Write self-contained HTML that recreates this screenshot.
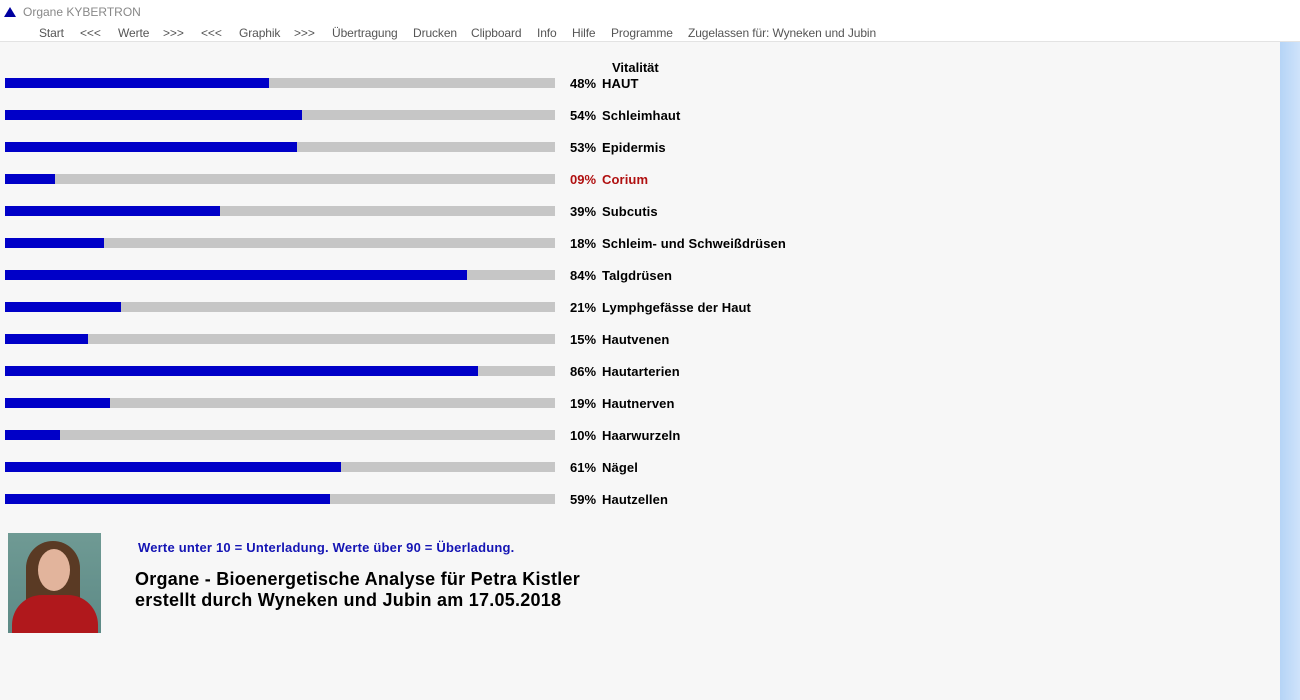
<!DOCTYPE html>
<html><head><meta charset="utf-8"><style>
body{margin:0;width:1300px;height:700px;background:#f7f7f7;font-family:"Liberation Sans",sans-serif;position:relative;overflow:hidden}
.hdr{position:absolute;left:0;top:0;width:1300px;height:41px;background:#fff;border-bottom:1px solid #e3e3e3}
.t{position:absolute;left:23px;top:5px;font-size:12px;color:#888}
.tri{position:absolute;left:4px;top:7px;width:0;height:0;border-left:6px solid transparent;border-right:6px solid transparent;border-bottom:10px solid #0000a0}
.m{position:absolute;top:26px;font-size:12px;color:#555;white-space:nowrap;letter-spacing:-0.1px}
.strip{position:absolute;left:1280px;top:42px;width:20px;height:658px;background:linear-gradient(90deg,#b5d4f6,#cfe3fb)}
.bar{position:absolute;left:5px;width:550px;height:10px;background:#c6c6c6}
.bar i{position:absolute;left:0;top:0;height:10px;background:#0000c8}
.p{position:absolute;left:570px;font-size:13px;font-weight:bold;color:#000}
.l{position:absolute;left:602px;font-size:13px;font-weight:bold;color:#000;white-space:nowrap;letter-spacing:0.1px}
.red{color:#b01010}
</style></head><body>
<div class="hdr"><div class="tri"></div><div class="t">Organe KYBERTRON</div>
<span class="m" style="left:39px">Start</span><span class="m" style="left:80px">&lt;&lt;&lt;</span><span class="m" style="left:118px">Werte</span><span class="m" style="left:163px">&gt;&gt;&gt;</span><span class="m" style="left:201px">&lt;&lt;&lt;</span><span class="m" style="left:239px">Graphik</span><span class="m" style="left:294px">&gt;&gt;&gt;</span><span class="m" style="left:332px">Übertragung</span><span class="m" style="left:413px">Drucken</span><span class="m" style="left:471px">Clipboard</span><span class="m" style="left:537px">Info</span><span class="m" style="left:572px">Hilfe</span><span class="m" style="left:611px">Programme</span><span class="m" style="left:688px">Zugelassen für: Wyneken und Jubin</span>
</div>
<div class="strip"></div>
<div style="position:absolute;left:612px;top:60px;font-size:13px;font-weight:bold">Vitalität</div>
<div id="rows"></div>
<div style="position:absolute;left:8px;top:533px;width:93px;height:100px;background:linear-gradient(#6f9a94,#5d8a86);overflow:hidden">
<div style="position:absolute;left:18px;top:8px;width:54px;height:70px;border-radius:27px 27px 10px 10px;background:#5a3a24"></div>
<div style="position:absolute;left:30px;top:16px;width:32px;height:42px;border-radius:50%;background:#e2b49c"></div>
<div style="position:absolute;left:4px;top:62px;width:86px;height:50px;border-radius:30px 30px 0 0;background:#b0181c"></div>
</div>
<div style="position:absolute;left:138px;top:540px;font-size:13px;font-weight:bold;color:#1414b4;letter-spacing:0.2px">Werte unter 10 = Unterladung. Werte über 90 = Überladung.</div>
<div style="position:absolute;left:135px;top:569px;font-size:18px;font-weight:bold;line-height:21px;color:#000;letter-spacing:0.25px">Organe - Bioenergetische Analyse für Petra Kistler<br>erstellt durch Wyneken und Jubin am 17.05.2018</div>
<script>
var d=[[48,"HAUT"],[54,"Schleimhaut"],[53,"Epidermis"],[9,"Corium"],[39,"Subcutis"],[18,"Schleim- und Schweißdrüsen"],[84,"Talgdrüsen"],[21,"Lymphgefässe der Haut"],[15,"Hautvenen"],[86,"Hautarterien"],[19,"Hautnerven"],[10,"Haarwurzeln"],[61,"Nägel"],[59,"Hautzellen"]];
var h="";d.forEach(function(r,i){var y=78+32*i;var c=r[0]<10?" red":"";var pv=(r[0]<10?"0":"")+r[0];
h+='<div class="bar" style="top:'+y+'px"><i style="width:'+(r[0]*5.5)+'px"></i></div><div class="p'+c+'" style="top:'+(y-2)+'px">'+pv+'%</div><div class="l'+c+'" style="top:'+(y-2)+'px">'+r[1]+'</div>';});
document.getElementById("rows").innerHTML=h;
</script>
</body></html>
